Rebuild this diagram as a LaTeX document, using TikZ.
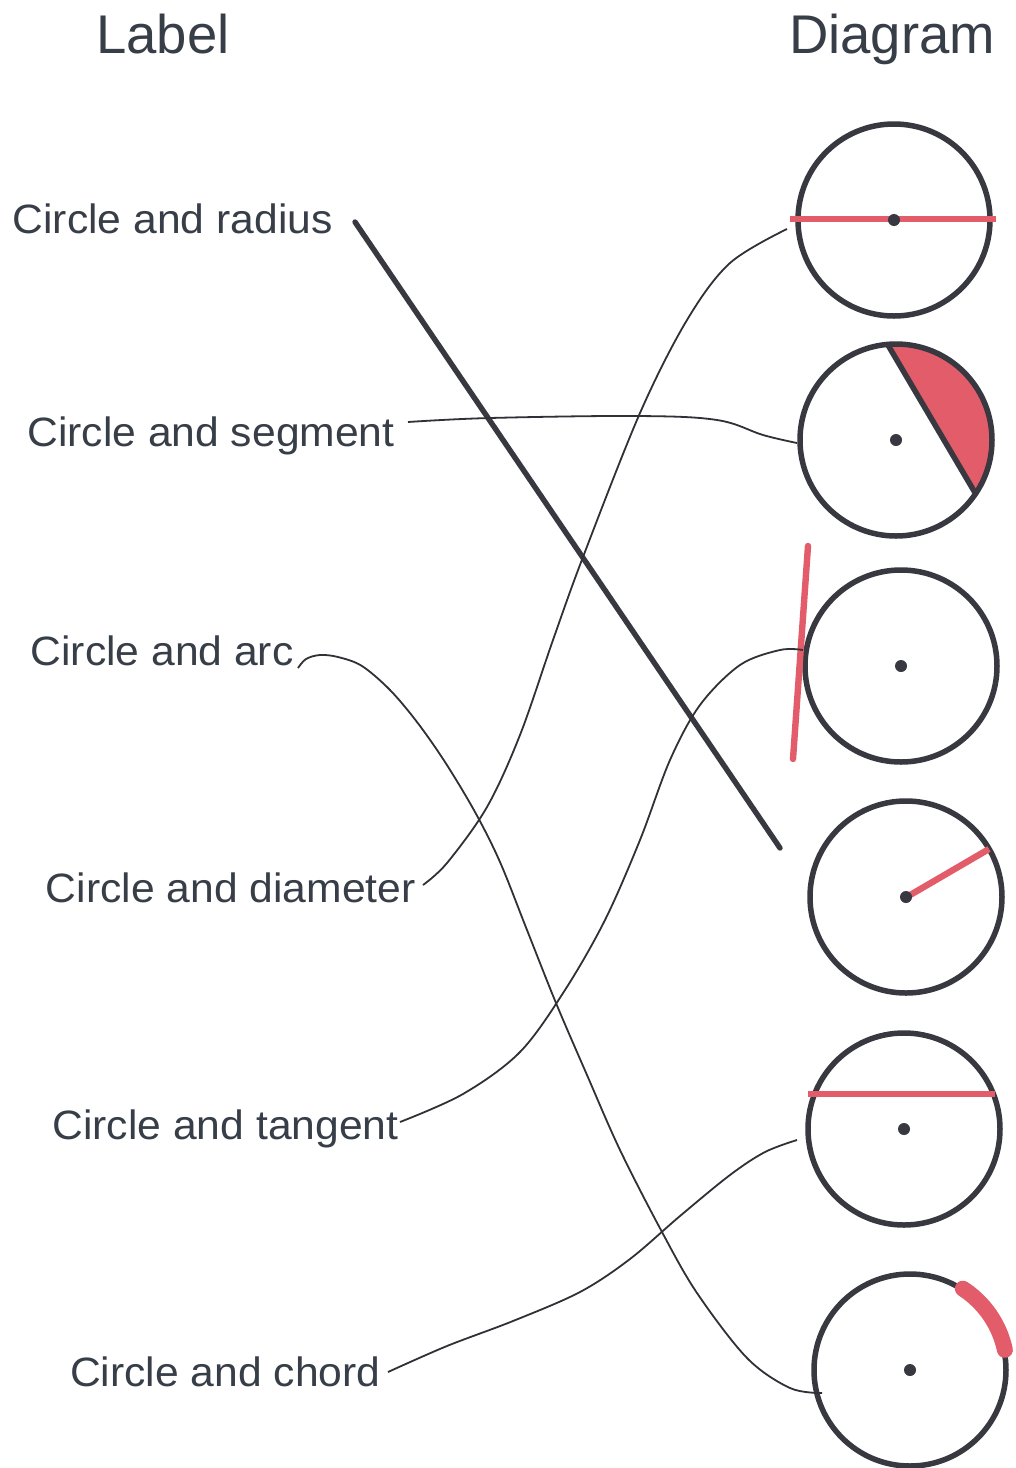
\documentclass[tikz,border=0pt]{standalone}
\usepackage{fontspec}
\setmainfont{Liberation Sans}
\newfontfamily\lblfont{Liberation Sans}[FakeStretch=1.04]
\definecolor{inkc}{RGB}{56,56,64}
\definecolor{connc}{RGB}{48,48,54}
\definecolor{textc}{RGB}{55,62,72}
\definecolor{redc}{RGB}{226,92,106}
\begin{document}
\begin{tikzpicture}[x=0.5pt,y=-0.5pt,
  circ/.style={circle, draw=inkc, line width=2.75pt, minimum size=96pt, inner sep=0pt, outer sep=0pt},
  cdot/.style={circle, fill=inkc, minimum size=6pt, inner sep=0pt},
  conn/.style={draw=connc, line width=0.9pt},
  bold conn/.style={draw=inkc, line width=2.7pt, line cap=round},
  redline/.style={draw=redc, line width=3.2pt},
  lbl/.style={font=\lblfont\fontsize{20.5pt}{24pt}\selectfont, text=textc, inner sep=0pt, anchor=base east},
  head/.style={font=\fontsize{27.25pt}{32pt}\selectfont, text=textc, inner sep=0pt, anchor=base}]
\useasboundingbox (0,0) rectangle (1016,1468);
\fill[white] (0,0) rectangle (1016,1468);

% headings
\node[head] (hlabel) at (163,53) {Label};
\node[head] (hdiag) at (892,53) {Diagram};

% labels
\node[lbl] (lrad) at (333,233) {Circle and radius};
\node[lbl] (lseg) at (395,446) {Circle and segment};
\node[lbl] (larc) at (294,665) {Circle and arc};
\node[lbl] (ldia) at (416,902) {Circle and diameter};
\node[lbl] (ltan) at (399,1139) {Circle and tangent};
\node[lbl] (lcho) at (381,1386) {Circle and chord};

% segment fill (circle 2)
\begin{scope}
  \clip (896,440) circle[radius=96];
  \fill[redc] (843.6,269.8) -- (1019.6,568) -- (1100,568) -- (1100,269.8) -- cycle;
\end{scope}

% circles
\node[circ] (c1) at (894,220) {};
\node[circ] (c2) at (896,440) {};
\node[circ] (c3) at (901,666) {};
\node[circ] (c4) at (906,897) {};
\node[circ] (c5) at (904,1129) {};
\node[circ] (c6) at (910,1370) {};

% segment chord
\draw[draw=inkc, line width=2.75pt] ([shift={(-8.4,-95.6)}]c2.center) -- ([shift={(79.6,53.7)}]c2.center);

% red features
\draw[redline] ([shift={(-104,-1)}]c1.center) -- ([shift={(102,-1)}]c1.center);
\draw[redline, line cap=round] ([shift={(-93,-120)}]c3.center) -- ([shift={(-108,93)}]c3.center);
\draw[redline] ([shift={(-1,1)}]c4.center) -- ([shift={(83,-48)}]c4.center);
\draw[redline] ([shift={(-96,-35)}]c5.center) -- ([shift={(91,-35)}]c5.center);
\draw[draw=redc, line width=8pt, line cap=round] ([shift={(-57:97)}]c6.center) arc[start angle=-57, end angle=-12, radius=97];

% centre dots
\foreach \c in {c1,c2,c3,c4,c5,c6} \node[cdot] at (\c.center) {};

% connectors
\draw[bold conn] ([shift={(22,-11)}]lrad.base east) -- ([shift={(-126,-49)}]c4.center);

\draw[conn] plot[smooth, tension=0.6] coordinates {([shift={(13,-24)}]lseg.base east) (490,418) (637,416) (717,420) (763,435) ([shift={(-99,3)}]c2.center)};

\draw[conn] plot[smooth, tension=0.55] coordinates {([shift={(4,3)}]larc.base east) (306,659) (320,655) (338,657) (362,666) (390,690) (417,722) (445,762) (475,812) (500,862) (527,930) (556,1003) (587,1075) (620,1150) (662,1232) (697,1293) (747,1358) (790,1388) ([shift={(-88,23)}]c6.center)};

\draw[conn] plot[smooth, tension=0.55] coordinates {([shift={(7,-17)}]ldia.base east) (447,863) (487,807) (520,735) (553,640) (583,557) (640,413) (687,320) (730,263) ([shift={(-107,9)}]c1.center)};

\draw[conn] plot[smooth, tension=0.55] coordinates {([shift={(1,-17)}]ltan.base east) (463,1094) (520,1052) (565,990) (605,920) (640,840) (670,760) (700,705) (740,665) (780,650) ([shift={(-98,-16)}]c3.center)};

\draw[conn] plot[smooth, tension=0.55] coordinates {([shift={(7,-14)}]lcho.base east) (447,1346) (513,1321) (580,1292) (630,1259) (680,1216) (730,1175) (765,1152) ([shift={(-107,11)}]c5.center)};
\end{tikzpicture}
\end{document}
